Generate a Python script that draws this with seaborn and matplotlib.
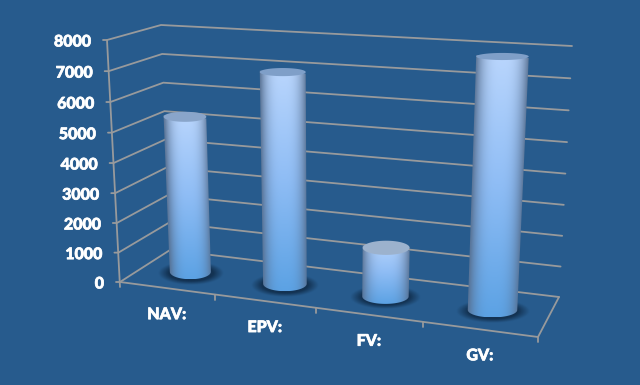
from __future__ import annotations

import matplotlib

matplotlib.use("Agg")
import matplotlib.patheffects as pe
import matplotlib.pyplot as plt
import numpy as np
import pandas as pd
import seaborn as sns
from matplotlib.colors import to_rgb
from matplotlib.patches import Polygon

CATEGORIES = ["NAV:", "EPV:", "FV:", "GV:"]
VALUES = [5300, 7000, 1600, 7900]
TICK_VALUES = [0, 1000, 2000, 3000, 4000, 5000, 6000, 7000, 8000]

BACKGROUND = "#275B8D"
GRID_COLOR = "#989A9C"
V_MAX = 8000

# pixel corners of the 3d box, floor and roof
FLOOR = {"fl": (120, 282), "fr": (538, 337), "bl": (170, 250), "br": (559, 297)}
ROOF = {"fl": (107, 40), "fr": (552, 67), "bl": (161, 25), "br": (572, 46)}


def project(x_frac, depth, value):
    # x_frac 0-1 along the front edge, depth 0 front 1 back
    f = x_frac / (1 + 0.132 * (1 - x_frac))
    t = value / V_MAX
    g = t / (1 + 0.034 * (1 - t))
    out = []
    for i in range(2):
        low = (1 - depth) * ((1 - f) * FLOOR["fl"][i] + f * FLOOR["fr"][i]) + depth * (
            (1 - f) * FLOOR["bl"][i] + f * FLOOR["br"][i]
        )
        high = (1 - depth) * ((1 - f) * ROOF["fl"][i] + f * ROOF["fr"][i]) + depth * (
            (1 - f) * ROOF["bl"][i] + f * ROOF["br"][i]
        )
        out.append((1 - g) * low + g * high)
    return np.array(out)


def grid_frame() -> pd.DataFrame:
    rows = []
    for value in TICK_VALUES:
        # side wall, then back wall, with the tick stub in front
        start = project(0, 0, value)
        corner = project(0, 1, value)
        end = project(1, 1, value)
        path = [start + (-4, 0), start, corner, end]
        rows += [(f"v{value}", k, p[0], p[1]) for k, p in enumerate(path)]
    floor_path = [project(1, 1, 0), project(1, 0, 0), project(0, 0, 0)]
    rows += [("floor", k, p[0], p[1]) for k, p in enumerate(floor_path)]
    rows += [("axis", k, p[0], p[1]) for k, p in enumerate([project(0, 0, V_MAX), project(0, 0, 0) + (0, 5)])]
    for i in range(1, 5):
        p = project(i / 4, 0, 0)
        rows += [(f"t{i}", 0, p[0], p[1]), (f"t{i}", 1, p[0], p[1] + 5)]
    return pd.DataFrame(rows, columns=["line", "order", "px", "py"])


def half_ellipse(center, a, b, start, stop, n=40):
    angles = np.linspace(start, stop, n)
    return np.column_stack([center[0] + a * np.cos(angles), center[1] + b * np.sin(angles)])


def draw_shadow(ax, center, a, b):
    xs = np.linspace(-1, 1, 120)
    ys = np.linspace(-1, 1, 60)
    xx, yy = np.meshgrid(xs, ys)
    radius = np.sqrt(xx**2 + yy**2)
    rgba = np.zeros((60, 120, 4))
    rgba[..., :3] = to_rgb("#12304F")
    rgba[..., 3] = np.clip((1 - radius) / 0.32, 0, 1) * 0.95
    ax.imshow(
        rgba,
        extent=(center[0] - a, center[0] + a, center[1] + b, center[1] - b),
        interpolation="bilinear",
        aspect="auto",
        zorder=3,
    )


def shaded_image(left_top, right_top, left_base, right_base, x0, x1):
    height, width = 200, 140
    ramp = np.array(sns.blend_palette(["#BAD6FD", "#8FBDF5", "#5CA2E4"], height))
    edge = np.array(to_rgb("#566F90"))
    xs = np.linspace(x0, x1, width)
    rows = np.linspace(0, 1, height)
    image = np.zeros((height, width, 3))
    for r, t in enumerate(rows):
        left = left_top + (left_base - left_top) * t
        right = right_top + (right_base - right_top) * t
        u = np.clip(2 * (xs - left) / (right - left) - 1, -1, 1)
        mix = np.abs(u) ** 3.0 * 0.9
        image[r] = ramp[r] * (1 - mix[:, None]) + edge * mix[:, None]
    return image


def draw_cylinder(ax, index, value):
    t = (index + 0.5) / len(CATEGORIES)
    half = 0.056
    base_l = project(t - half, 0.5, 0)
    base_r = project(t + half, 0.5, 0)
    top_l = project(t - half, 0.5, value)
    top_r = project(t + half, 0.5, value)
    base_c = (base_l + base_r) / 2
    top_c = (top_l + top_r) / 2
    base_a = (base_r[0] - base_l[0]) / 2
    top_a = (top_r[0] - top_l[0]) / 2
    base_b = 7.5
    top_b = 8 - 4.5 * value / V_MAX

    draw_shadow(ax, base_c + (0, 1), base_a + 12, 12)

    # lower half of the base runs left to right through the bottom
    outline = np.vstack(
        [[top_l], half_ellipse(base_c, base_a, base_b, np.pi, 0, 40), [top_r]]
    )
    x0, x1 = min(top_l[0], base_l[0]) - 1, max(top_r[0], base_r[0]) + 1
    y_top, y_bottom = top_c[1] - top_b, base_c[1] + base_b
    image = shaded_image(top_l[0], top_r[0], base_l[0], base_r[0], x0, x1)
    im = ax.imshow(
        image,
        extent=(x0, x1, y_bottom, y_top),
        interpolation="bilinear",
        aspect="auto",
        zorder=4,
    )
    body = Polygon(outline, closed=True, transform=ax.transData, facecolor="none", edgecolor="none")
    ax.add_patch(body)
    im.set_clip_path(body)

    cap = half_ellipse(top_c, top_a, top_b, 0, 2 * np.pi, 60)
    cap_color = sns.blend_palette(["#7F9FC8", "#A6B8CE"], 5)[int(4 * (1 - value / V_MAX))]
    ax.add_patch(Polygon(cap, closed=True, facecolor=cap_color, edgecolor="none", zorder=5))


def main() -> None:
    sns.set_theme(style="white")
    plt.rcParams["font.family"] = ["Lato", "DejaVu Sans"]

    fig = plt.figure(figsize=(6.4, 3.85), dpi=100, facecolor=BACKGROUND)
    ax = fig.add_axes([0, 0, 1, 1])
    ax.set_facecolor(BACKGROUND)

    sns.lineplot(
        data=grid_frame(),
        x="px",
        y="py",
        units="line",
        estimator=None,
        sort=False,
        color=GRID_COLOR,
        linewidth=1.3,
        legend=False,
        ax=ax,
        zorder=2,
    )

    for index, value in enumerate(VALUES):
        draw_cylinder(ax, index, value)

    heavier = [pe.withStroke(linewidth=0.5, foreground="white")]
    for value in TICK_VALUES:
        p = project(0, 0, value)
        ax.text(p[0] - 16, p[1] + 1.5, str(value), ha="right", va="center", color="white",
                fontsize=11.5, fontweight=900, zorder=6, path_effects=heavier)
    for index, name in enumerate(CATEGORIES):
        p = project((index + 0.5) / len(CATEGORIES), 0, 0)
        ax.text(p[0], p[1] + 26, name, ha="center", va="center", color="white",
                fontsize=11.5, fontweight=900, zorder=6, path_effects=heavier)

    ax.set_xlim(0, 640)
    ax.set_ylim(385, 0)
    ax.axis("off")
    fig.savefig("out.png", dpi=100, facecolor=BACKGROUND)
    plt.close(fig)


if __name__ == "__main__":
    main()
